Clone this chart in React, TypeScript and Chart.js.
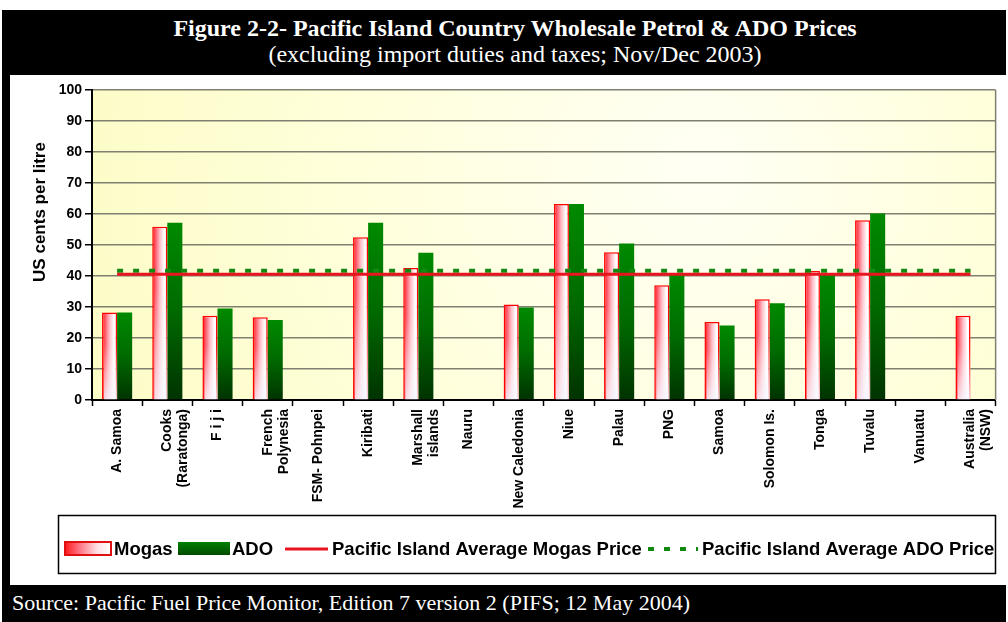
import React, { useEffect, useRef } from "react";
import { Chart, registerables } from "chart.js";

Chart.register(...registerables);

// ---------- data ----------
const categories: (string | string[])[] = [
  "A. Samoa",
  ["Cooks", "(Raratonga)"],
  "F i j i",
  ["French", "Polynesia"],
  "FSM- Pohnpei",
  "Kiribati",
  ["Marshall", "islands"],
  "Nauru",
  "New Caledonia",
  "Niue",
  "Palau",
  "PNG",
  "Samoa",
  "Solomon Is.",
  "Tonga",
  "Tuvalu",
  "Vanuatu",
  ["Australia", "(NSW)"],
];

const mogasValues: (number | null)[] = [
  28.2, 55.9, 27.2, 26.7, null, 52.5, 42.6, null, 30.8, 63.2, 47.7, 37.0, 25.2, 32.5, 41.6, 58.0, null, 27.2,
];

const adoValues: (number | null)[] = [
  28.2, 57.2, 29.5, 25.8, null, 57.2, 47.5, null, 29.8, 63.2, 50.5, 40.3, 24.0, 31.2, 40.5, 60.2, null, null,
];

const avgMogasPrice = 40.6;
const avgAdoPrice = 41.7;

const yMin = 0;
const yMax = 100;
const yStep = 10;

const titleLine1 = "Figure 2-2- Pacific Island Country Wholesale Petrol & ADO Prices";
const titleLine2 = "(excluding import duties and taxes; Nov/Dec 2003)";
const sourceText = "Source: Pacific Fuel Price Monitor, Edition 7 version 2 (PIFS; 12 May 2004)";
const yAxisTitle = "US cents per litre";
const legendLabels = [
  "Mogas",
  "ADO",
  "Pacific Island Average Mogas Price",
  "Pacific Island Average ADO Price",
];

// ---------- styling helpers ----------
const SANS = "'Liberation Sans', Arial, Helvetica, sans-serif";
const SERIF = "'Liberation Serif', 'Times New Roman', Times, serif";

const fin = (...v: number[]) => v.every((n) => typeof n === "number" && isFinite(n));

function mogasFill(ctx: any) {
  const chart = ctx.chart;
  const xs = chart.scales?.x;
  if (!xs || ctx.type !== "data" || ctx.raw == null) return "#ffb0b8";
  const cx = xs.getPixelForValue(ctx.dataIndex);
  const cw = xs.width / categories.length;
  const left = cx - cw * 0.3;
  const right = cx;
  if (!fin(left, right) || right - left <= 0) return "#ffb0b8";
  const g = chart.ctx.createLinearGradient(left, 0, right, 0);
  g.addColorStop(0, "#ff1010");
  g.addColorStop(0.2, "#ff5262");
  g.addColorStop(0.5, "#ffbcc6");
  g.addColorStop(0.8, "#ffffff");
  g.addColorStop(1, "#f2f2ff");
  return g;
}

function adoFill(ctx: any) {
  const chart = ctx.chart;
  const ys = chart.scales?.y;
  if (!ys || ctx.type !== "data" || ctx.raw == null) return "#006400";
  const top = ys.getPixelForValue(ctx.raw);
  const bot = ys.getPixelForValue(0);
  if (!fin(top, bot) || bot - top <= 0) return "#006400";
  const g = chart.ctx.createLinearGradient(0, top, 0, bot);
  g.addColorStop(0, "#008a00");
  g.addColorStop(0.5, "#006a00");
  g.addColorStop(1, "#003300");
  return g;
}

const backgroundPlugin = {
  id: "plotBackground",
  beforeDraw(chart: any) {
    const { ctx, chartArea } = chart;
    if (!chartArea) return;
    const { left, top, right, bottom } = chartArea;
    const w = right - left;
    const h = bottom - top;
    ctx.save();
    const g = ctx.createRadialGradient(left + w * 0.68, top + h * 0.25, 10, left + w * 0.6, top + h * 0.35, w * 0.75);
    g.addColorStop(0, "#fffff4");
    g.addColorStop(0.45, "#ffffdc");
    g.addColorStop(1, "#fbfbc0");
    ctx.fillStyle = g;
    ctx.fillRect(left, top, w, h);
    ctx.restore();
  },
  afterDraw(chart: any) {
    const { ctx, chartArea } = chart;
    if (!chartArea) return;
    ctx.save();
    ctx.strokeStyle = "#808070";
    ctx.lineWidth = 1.5;
    ctx.beginPath();
    ctx.moveTo(chartArea.right, chartArea.top);
    ctx.lineTo(chartArea.right, chartArea.bottom);
    ctx.stroke();
    ctx.restore();
  },
};

const mogasOverlayPlugin = {
  id: "mogasOverlay",
  afterDatasetDraw(chart: any, args: any) {
    if (args.index !== 2) return;
    const ctx = chart.ctx;
    ctx.save();
    args.meta.data.forEach((el: any) => {
      const p = el.getProps(["x", "y", "base", "width"], true);
      if (!fin(p.x, p.y, p.base, p.width)) return;
      const l = p.x - p.width / 2 + 2;
      const r = p.x + p.width / 2;
      const t = p.y + 2;
      const b = p.base;
      if (b - t <= 0) return;
      const g = ctx.createLinearGradient(0, t, 0, b);
      g.addColorStop(0, "rgba(255,255,255,0)");
      g.addColorStop(0.35, "rgba(255,255,255,0.05)");
      g.addColorStop(1, "rgba(246,246,255,0.85)");
      ctx.fillStyle = g;
      ctx.fillRect(l, t, r - l, b - t);
    });
    ctx.restore();
  },
};

const legendPlugin = {
  id: "customLegendAndTitle",
  afterDraw(chart: any) {
    const ctx = chart.ctx;
    ctx.save();

    // y-axis title
    ctx.save();
    ctx.translate(30, 137);
    ctx.rotate(-Math.PI / 2);
    ctx.font = `bold 17px ${SANS}`;
    ctx.fillStyle = "#000";
    ctx.textAlign = "center";
    ctx.textBaseline = "middle";
    ctx.fillText(yAxisTitle, 0, 0);
    ctx.restore();

    // legend box
    ctx.strokeStyle = "#000";
    ctx.lineWidth = 1.5;
    ctx.strokeRect(48.5, 440.5, 937, 58);

    const cy = 474;
    ctx.font = `bold 18.5px ${SANS}`;
    ctx.fillStyle = "#000";
    ctx.textBaseline = "middle";
    ctx.textAlign = "left";

    // Mogas swatch
    const mg = ctx.createLinearGradient(55, 0, 101, 0);
    mg.addColorStop(0, "#ff1a1a");
    mg.addColorStop(0.3, "#ff7080");
    mg.addColorStop(0.7, "#ffe0e4");
    mg.addColorStop(1, "#ffffff");
    ctx.fillStyle = mg;
    ctx.fillRect(55, 467, 46, 13);
    ctx.strokeStyle = "#e01010";
    ctx.lineWidth = 2;
    ctx.strokeRect(55, 467, 46, 13);
    ctx.fillStyle = "#000";
    ctx.fillText(legendLabels[0], 104, cy + 1);

    // ADO swatch
    const ag = ctx.createLinearGradient(0, 467, 0, 480);
    ag.addColorStop(0, "#008000");
    ag.addColorStop(1, "#004a00");
    ctx.fillStyle = ag;
    ctx.fillRect(168, 467, 52, 13);
    ctx.fillStyle = "#000";
    ctx.fillText(legendLabels[1], 222, cy + 1);

    // red avg line
    ctx.strokeStyle = "#e8141e";
    ctx.lineWidth = 3;
    ctx.beginPath();
    ctx.moveTo(275, cy);
    ctx.lineTo(318, cy);
    ctx.stroke();
    ctx.fillText(legendLabels[2], 322, cy + 1);

    // green dashed line
    ctx.strokeStyle = "#108a10";
    ctx.lineWidth = 4;
    ctx.setLineDash([6, 10]);
    ctx.beginPath();
    ctx.moveTo(638, cy);
    ctx.lineTo(688, cy);
    ctx.stroke();
    ctx.setLineDash([]);
    ctx.fillText(legendLabels[3], 692, cy + 1);

    ctx.restore();
  },
};

export default function App() {
  const canvasRef = useRef<HTMLCanvasElement | null>(null);

  useEffect(() => {
    const canvas = canvasRef.current;
    if (!canvas) return;
    const chart = new Chart(canvas, {
      type: "bar",
      data: {
        labels: categories as any,
        datasets: [
          {
            type: "line" as const,
            label: legendLabels[2],
            data: categories.map(() => avgMogasPrice),
            borderColor: "#e8141e",
            borderWidth: 3,
            pointRadius: 0,
            fill: false,
            order: 0,
          } as any,
          {
            type: "line" as const,
            label: legendLabels[3],
            data: categories.map(() => avgAdoPrice),
            borderColor: "#108a10",
            borderWidth: 4,
            borderDash: [6, 10],
            pointRadius: 0,
            fill: false,
            order: 1,
          } as any,
          {
            type: "bar" as const,
            label: legendLabels[0],
            data: mogasValues,
            backgroundColor: mogasFill,
            borderColor: "#ff0000",
            borderWidth: 1.5,
            barPercentage: 1,
            categoryPercentage: 0.6,
            order: 2,
          } as any,
          {
            type: "bar" as const,
            label: legendLabels[1],
            data: adoValues,
            backgroundColor: adoFill,
            borderWidth: 0,
            barPercentage: 1,
            categoryPercentage: 0.6,
            order: 3,
          } as any,
        ],
      },
      options: {
        responsive: false,
        animation: false,
        devicePixelRatio: 1,
        layout: { padding: { left: 0, right: 10, top: 15, bottom: 70 } },
        plugins: {
          legend: { display: false },
          tooltip: { enabled: false },
          title: { display: false },
        },
        scales: {
          x: {
            offset: true,
            grid: {
              display: true,
              offset: true,
              drawOnChartArea: false,
              drawTicks: true,
              tickLength: 6,
              tickColor: "#000",
              tickWidth: 1.5,
            },
            border: { display: true, color: "#000", width: 2 },
            ticks: {
              autoSkip: false,
              maxRotation: 90,
              minRotation: 90,
              padding: 3,
              color: "#000",
              font: { family: SANS, size: 14, weight: "bold", lineHeight: 1.15 },
            },
            afterFit: (s: any) => {
              s.height = 115;
            },
          },
          y: {
            min: yMin,
            max: yMax,
            grid: {
              color: "#808070",
              lineWidth: 1.5,
              tickLength: 7,
              tickColor: "#000",
              tickWidth: 1.5,
            },
            border: { display: true, color: "#000", width: 2 },
            ticks: {
              stepSize: yStep,
              padding: 3,
              color: "#000",
              font: { family: SANS, size: 14, weight: "bold" },
            },
            afterFit: (s: any) => {
              s.width = 82;
            },
          },
        },
      } as any,
      plugins: [backgroundPlugin, mogasOverlayPlugin, legendPlugin],
    });
    return () => chart.destroy();
  }, []);

  return (
    <div
      style={{
        position: "fixed",
        left: 0,
        top: 0,
        width: 1008,
        height: 622,
        background: "#fff",
        overflow: "hidden",
      }}
    >
      <div style={{ position: "absolute", left: 2, top: 10, width: 8, height: 612, background: "#000" }} />
      <div style={{ position: "absolute", left: 2, top: 10, width: 1004, height: 65, background: "#000" }} />
      <div
        style={{
          position: "absolute",
          left: 0,
          top: 14,
          width: 1030,
          textAlign: "center",
          color: "#fff",
          fontFamily: SERIF,
          fontWeight: "bold",
          fontSize: 24,
          lineHeight: "28px",
          whiteSpace: "nowrap",
        }}
      >
        {titleLine1}
      </div>
      <div
        style={{
          position: "absolute",
          left: 0,
          top: 40,
          width: 1030,
          textAlign: "center",
          color: "#fff",
          fontFamily: SERIF,
          fontSize: 24,
          lineHeight: "28px",
          whiteSpace: "nowrap",
        }}
      >
        {titleLine2}
      </div>
      <div style={{ position: "absolute", left: 2, top: 585, width: 1004, height: 37, background: "#000" }} />
      <div
        style={{
          position: "absolute",
          left: 12,
          top: 590,
          color: "#fff",
          fontFamily: SERIF,
          fontSize: 22,
          lineHeight: "26px",
          whiteSpace: "nowrap",
        }}
      >
        {sourceText}
      </div>
      <canvas
        ref={canvasRef}
        width={996}
        height={510}
        style={{ position: "absolute", left: 10, top: 75, width: 996, height: 510 }}
      />
    </div>
  );
}
